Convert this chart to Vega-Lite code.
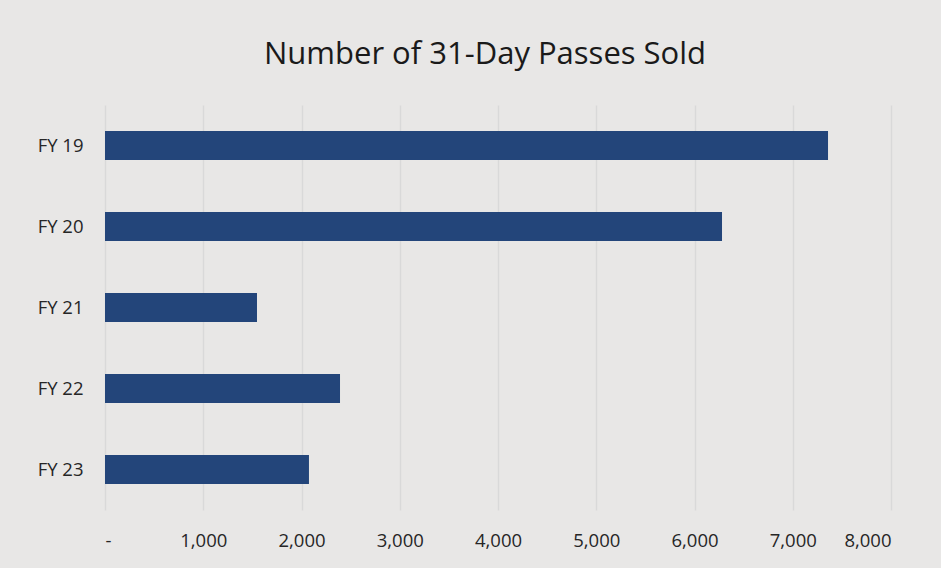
{
  "$schema": "https://vega.github.io/schema/vega-lite/v6.json",
  "autosize": {"type": "none"},
  "width": 786,
  "height": 405,
  "padding": {"left": 105, "top": 105, "right": 50, "bottom": 58},
  "background": "#e8e7e6",
  "title": {
    "text": "Number of 31-Day Passes Sold",
    "font": "Open Sans",
    "fontSize": 31,
    "fontWeight": "normal",
    "color": "#1a1a1a",
    "anchor": "middle",
    "dx": -13,
    "baseline": "bottom",
    "offset": 3
  },
  "data": {
    "values": [
      {"year": "FY 19", "passes": 7359},
      {"year": "FY 20", "passes": 6280},
      {"year": "FY 21", "passes": 1547},
      {"year": "FY 22", "passes": 2392},
      {"year": "FY 23", "passes": 2076}
    ]
  },
  "mark": {"type": "bar", "color": "#23457a"},
  "encoding": {
    "y": {
      "field": "year",
      "type": "nominal",
      "sort": null,
      "scale": {"paddingInner": 0.64, "paddingOuter": 0.32},
      "axis": {
        "title": null,
        "domain": false,
        "ticks": false,
        "grid": false,
        "labelPadding": 22,
        "labelFont": "Open Sans",
        "labelFontSize": 18.5,
        "labelColor": "#262626"
      }
    },
    "x": {
      "field": "passes",
      "type": "quantitative",
      "scale": {"domain": [0, 8000], "nice": false},
      "axis": {
        "title": null,
        "domain": false,
        "ticks": false,
        "values": [0, 1000, 2000, 3000, 4000, 5000, 6000, 7000, 8000],
        "labelExpr": "datum.value == 0 ? '-' : format(datum.value, ',')",
        "labelPadding": 21,
        "labelFont": "Open Sans",
        "labelFontSize": 18.5,
        "labelColor": "#262626",
        "grid": true,
        "gridColor": "#d9d9d9",
        "gridWidth": 1.5
      }
    }
  },
  "config": {"view": {"stroke": null}}
}
